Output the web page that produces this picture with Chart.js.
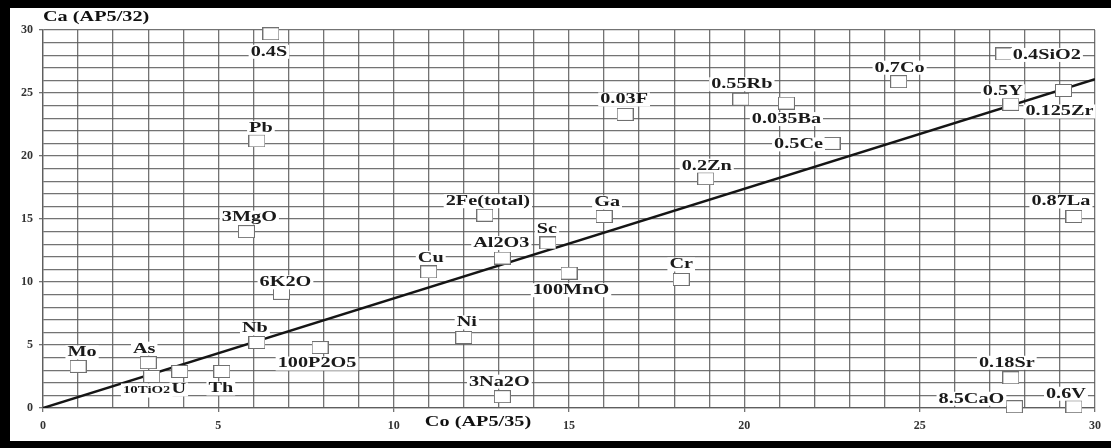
<!DOCTYPE html>
<html>
<head>
<meta charset="utf-8">
<script src="https://cdn.jsdelivr.net/npm/chart.js@4/dist/chart.umd.min.js"></script>
<style>
  html, body { margin: 0; padding: 0; background: #fff; }
  canvas { display: block; }
</style>
</head>
<body>
<canvas id="isocon" width="1111" height="448"></canvas>
<script>
// element names (scaled as in the original plot)
const names = ['Mo', 'As', '10TiO2', 'U', 'Th', 'Nb', '100P2O5', 'Ni', '3Na2O', 'Cu',
  '2Fe(total)', 'Al2O3', 'Sc', '100MnO', 'Ga', '0.2Zn', 'Cr', '0.03F', '0.55Rb', '0.035Ba',
  '0.5Ce', '0.7Co', '0.4SiO2', '0.5Y', '0.125Zr', '0.87La', '0.18Sr', '8.5CaO', '0.6V',
  '0.4S', 'Pb', '3MgO', '6K2O'];
// Co (AP5/35) values
const coValues = [1.0, 3.0, 3.1, 3.9, 5.1, 6.1, 7.9, 12.0, 13.1, 11.0,
  12.6, 13.1, 14.4, 15.0, 16.0, 18.9, 18.2, 16.6, 19.9, 21.2,
  22.5, 24.4, 27.4, 27.6, 29.1, 29.4, 27.6, 27.7, 29.4,
  6.5, 6.1, 5.8, 6.8];
// Ca (AP5/32) values
const caValues = [3.3, 3.6, 2.5, 2.9, 2.9, 5.2, 4.8, 5.6, 0.9, 10.8,
  15.3, 11.9, 13.1, 10.7, 15.2, 18.2, 10.2, 23.3, 24.5, 24.2,
  21.0, 25.9, 28.1, 24.1, 25.2, 15.2, 2.4, 0.1, 0.1,
  29.7, 21.2, 14.0, 9.1];
// isocon line
const isoconX = [0, 30];
const isoconY = [0, 26.1];
const tickLabels = [0, 5, 10, 15, 20, 25, 30];

// label placement around each square: [dx, dy, align]
const labelPlace = {
  'Mo': [4, -14, 'center'], 'As': [-4, -14, 'center'], '10TiO2': [-5, 14, 'center'],
  'U': [-1, 18, 'center'], 'Th': [-1, 17, 'center'], 'Nb': [-2, -14, 'center'],
  '100P2O5': [-3, 16, 'center'], 'Ni': [3, -15, 'center'], '3Na2O': [-3, -15, 'center'],
  'Cu': [2, -14, 'center'], '2Fe(total)': [3, -14, 'center'], 'Al2O3': [-1, -15, 'center'],
  'Sc': [-1, -14, 'center'], '100MnO': [2, 17, 'center'], 'Ga': [3, -14, 'center'],
  '0.2Zn': [1, -13, 'center'], 'Cr': [0, -15, 'center'], '0.03F': [-1, -15, 'center'],
  '0.55Rb': [1, -15, 'center'], '0.035Ba': [0, 16, 'center'], '0.5Ce': [-9, 1, 'right'],
  '0.7Co': [1, -14, 'center'], '0.4SiO2': [9, 1, 'left'], '0.5Y': [-8, -13, 'center'],
  '0.125Zr': [-4, 21, 'center'], '0.87La': [-13, -15, 'center'], '0.18Sr': [-4, -15, 'center'],
  '8.5CaO': [-10, -8, 'right'], '0.6V': [-8, -13, 'center'], '0.4S': [-2, 18, 'center'],
  'Pb': [4, -13, 'center'], '3MgO': [3, -14, 'center'], '6K2O': [4, -11, 'center']
};

const SERIF = '"Liberation Serif", "DejaVu Serif", serif';
const STRETCH = 1.35; // the scanned figure is stretched sideways
const gridGray = 'rgba(90,90,90,0.85)';

// open box used as the point marker
const box = document.createElement('canvas');
box.width = 17; box.height = 13;
const bctx = box.getContext('2d');
bctx.fillStyle = '#fff';
bctx.fillRect(0, 0, 17, 13);
bctx.strokeStyle = '#707070';
bctx.lineWidth = 1;
bctx.strokeRect(0.5, 0.5, 16, 12);

function stretchedText(ctx, text, x, y, align, font) {
  ctx.save();
  ctx.font = font;
  ctx.translate(x, y);
  ctx.scale(STRETCH, 1);
  ctx.textAlign = align;
  ctx.textBaseline = 'middle';
  ctx.fillText(text, 0, 0);
  ctx.restore();
}

const paperPlugin = {
  id: 'paper',
  beforeDraw(chart) {
    const ctx = chart.ctx;
    ctx.save();
    ctx.fillStyle = '#fff';
    ctx.fillRect(0, 0, chart.width, chart.height);
    ctx.restore();
  },
  afterDatasetsDraw(chart) {
    const ctx = chart.ctx;
    const pts = chart.getDatasetMeta(1).data;
    ctx.save();
    names.forEach((name, i) => {
      const p = pts[i];
      const [dx, dy, align] = labelPlace[name];
      const font = name === '10TiO2' ? 'bold 11px ' + SERIF : 'bold 15px ' + SERIF;
      ctx.font = font;
      const w = ctx.measureText(name).width * STRETCH;
      const x = p.x + dx, y = p.y + dy;
      let left = x - w / 2;
      if (align === 'left') left = x;
      if (align === 'right') left = x - w;
      ctx.fillStyle = '#fff';
      ctx.fillRect(left - 2, y - 7, w + 4, 14);
      ctx.fillStyle = '#1a1a1a';
      stretchedText(ctx, name, x, y, align, font);
    });
    ctx.restore();
  },
  afterDraw(chart) {
    const ctx = chart.ctx;
    ctx.save();
    ctx.fillStyle = '#111';
    stretchedText(ctx, 'Ca (AP5/32)', 43, 17, 'left', 'bold 15px ' + SERIF);
    stretchedText(ctx, 'Co (AP5/35)', 478, 422, 'center', 'bold 15px ' + SERIF);
    // scan border
    ctx.fillStyle = '#000';
    ctx.fillRect(0, 0, 10, chart.height);
    ctx.fillRect(0, 0, chart.width, 8);
    ctx.fillRect(0, 441, chart.width, chart.height - 441);
    ctx.restore();
  }
};

const tickColor = ctx => tickLabels.includes(ctx.tick && ctx.tick.value) ? gridGray : 'rgba(0,0,0,0)';

new Chart(document.getElementById('isocon'), {
  type: 'scatter',
  data: {
    datasets: [{
      type: 'line',
      label: 'isocon',
      data: isoconX.map((x, i) => ({ x: x, y: isoconY[i] })),
      borderColor: '#151515',
      borderWidth: 2.5,
      pointRadius: 0,
      fill: false,
      order: 2
    }, {
      label: 'elements',
      data: coValues.map((x, i) => ({ x: x, y: caValues[i] })),
      pointStyle: box,
      clip: false,
      order: 1
    }]
  },
  options: {
    responsive: false,
    animation: false,
    devicePixelRatio: 1,
    layout: { padding: { left: 10, top: 30, right: 16, bottom: 0 } },
    plugins: { legend: { display: false }, tooltip: { enabled: false } },
    scales: {
      x: {
        type: 'linear',
        min: 0, max: 30,
        afterFit: scale => { scale.height = 40; },
        border: { color: gridGray, width: 1.3 },
        grid: { color: gridGray, lineWidth: 1.3, tickLength: 4, tickColor: tickColor },
        ticks: {
          stepSize: 1, autoSkip: false, maxRotation: 0, padding: 7,
          color: '#333', font: { family: SERIF, size: 12, weight: 'bold' },
          callback: v => tickLabels.includes(v) ? v : ''
        }
      },
      y: {
        type: 'linear',
        min: 0, max: 30,
        afterFit: scale => { scale.width = 33; },
        border: { color: gridGray, width: 1.3 },
        grid: { color: gridGray, lineWidth: 1.3, tickLength: 4, tickColor: tickColor },
        ticks: {
          stepSize: 1, autoSkip: false, padding: 6,
          color: '#333', font: { family: SERIF, size: 12, weight: 'bold' },
          callback: v => tickLabels.includes(v) ? v : ''
        }
      }
    }
  },
  plugins: [paperPlugin]
});
</script>
</body>
</html>
